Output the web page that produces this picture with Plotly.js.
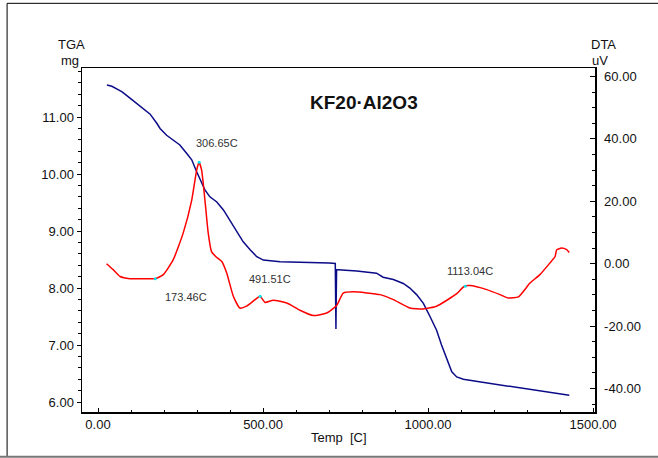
<!DOCTYPE html>
<html>
<head>
<meta charset="utf-8">
<script src="https://cdn.plot.ly/plotly-3.0.1.min.js"></script>
<style>html,body{margin:0;padding:0;background:#fff;}#chart{width:658px;height:458px;}</style>
</head>
<body>
<div id="chart"></div>
<script>
// TGA (mg) vs temperature (C)
const tgaTemp = [27,42,58,73,97,127,158,178,188,208,228,248,269,284,299,314,324,339,360,380,400,420,440,461,481,501,552,612,652,700,719,720,721,722,723,728,784,844,864,895,925,945,966,986,1006,1026,1041,1057,1072,1087,1107,1160,1218,1270,1319,1380,1428];
const tgaMass = [11.56,11.54,11.49,11.44,11.33,11.19,11.05,10.89,10.80,10.68,10.60,10.51,10.36,10.25,10.04,9.84,9.72,9.60,9.51,9.37,9.19,8.99,8.81,8.67,8.55,8.49,8.46,8.45,8.45,8.44,8.43,7.75,7.28,7.90,8.32,8.32,8.30,8.26,8.19,8.15,8.08,8.00,7.88,7.73,7.50,7.26,7.00,6.74,6.53,6.44,6.40,6.35,6.30,6.26,6.22,6.17,6.12];
// DTA (uV) vs temperature (C)
const dtaTemp = [26,46,67,97,148,173,198,228,258,284,299,306,314,324,334,344,359,375,390,410,430,450,476,491,506,531,572,612,652,693,723,743,774,855,895,945,986,1026,1057,1087,1110,1127,1178,1218,1243,1274,1309,1339,1369,1385,1390,1405,1420,1428];
const dtaSignal = [0.0,-1.9,-4.1,-4.8,-4.8,-4.8,-3.5,1.3,9.8,20.4,30.0,32.5,30.0,20.4,9.8,3.9,2.1,0.7,-3.0,-10.4,-14.2,-13.6,-11.5,-10.4,-12.4,-11.7,-12.6,-14.9,-16.6,-15.8,-13.4,-9.4,-9.0,-9.9,-11.5,-14.2,-14.5,-13.6,-11.7,-9.6,-7.2,-7.0,-8.3,-9.9,-11.0,-10.6,-6.2,-3.5,0.2,2.3,4.5,5.0,4.5,3.6];
// Peak markers and labels
const peakTemp = [306.65,173.46,491.51,1113.04];
const peakSignal = [32.5,-4.8,-10.4,-7.2];
const peakLabels = ["306.65C","173.46C","491.51C","1113.04C"];
const peakLabelX = [360,268,522,1127];
const peakLabelY = [38.7,-10.7,-4.9,-2.3];

const font = "Liberation Sans, Arial, sans-serif";
const traces = [
  {x: tgaTemp, y: tgaMass, type: "scatter", mode: "lines", line: {color: "#0b0b88", width: 1.5}, yaxis: "y", hoverinfo: "skip"},
  {x: dtaTemp, y: dtaSignal, type: "scatter", mode: "lines", line: {color: "#ff0000", width: 1.5, shape: "spline", smoothing: 0.5}, yaxis: "y2", hoverinfo: "skip"},
  {x: peakTemp, y: peakSignal, type: "scatter", mode: "markers", marker: {color: "#00e5ee", size: 3}, yaxis: "y2", hoverinfo: "skip"}
];

const annotations = peakLabels.map((t, i) => ({
  x: peakLabelX[i], y: peakLabelY[i], xref: "x", yref: "y2", text: t, showarrow: false,
  xanchor: "center", yanchor: "middle",
  font: {family: font, size: 11, color: "#333"}
}));
function paperText(x, y, text, size) {
  return {xref: "paper", yref: "paper", x: x, y: y, text: text, showarrow: false,
          xanchor: "center", yanchor: "middle", font: {family: font, size: size, color: "#111"}};
}
annotations.push(
  paperText(-0.0195, 1.067, "TGA", 13),
  paperText(-0.023, 1.023, "mg", 13),
  paperText(1.0175, 1.067, "DTA", 13),
  paperText(1.0097, 1.023, "uV", 13),
  paperText(0.55, 0.901, "<b>KF20·Al2O3</b>", 19),
  paperText(0.501, -0.073, "Temp  [C]", 13)
);

const layout = {
  width: 658, height: 458,
  margin: {l: 82, r: 63, t: 68, b: 46},
  paper_bgcolor: "#fff", plot_bgcolor: "#fff",
  showlegend: false,
  font: {family: font, size: 13, color: "#111"},
  xaxis: {range: [-48.5, 1506], tickvals: [0,500,1000,1500], ticktext: ["0.00","500.00","1000.00","1500.00"],
          ticks: "inside", ticklen: 4, tickcolor: "#000", showgrid: false, zeroline: false,
          showline: true, linecolor: "#000", linewidth: 1.5, mirror: true,
          minor: {dtick: 100, tick0: 0, ticks: "inside", ticklen: 2, tickcolor: "#000"}},
  yaxis: {range: [5.825, 11.86], tickvals: [6,7,8,9,10,11], ticktext: ["6.00","7.00","8.00","9.00","10.00","11.00"],
          ticks: "outside", ticklen: 4, tickcolor: "#000", showgrid: false, zeroline: false,
          showline: true, linecolor: "#000", linewidth: 1.5,
          minor: {dtick: 0.2, tick0: 6, ticks: "outside", ticklen: 3, tickcolor: "#000"}},
  yaxis2: {range: [-47.5, 62.7], overlaying: "y", side: "right", tickvals: [-40,-20,0,20,40,60],
           ticktext: ["-40.00","-20.00","0.00","20.00","40.00","60.00"],
           ticks: "inside", ticklen: 5, tickcolor: "#000", showgrid: false, zeroline: false,
           showline: true, linecolor: "#000", linewidth: 1.5, ticklabelstandoff: 5,
           minor: {dtick: 5, tick0: 0, ticks: "inside", ticklen: 3, tickcolor: "#000"}},
  annotations: annotations,
  shapes: [
    {type: "line", xref: "paper", yref: "paper", x0: -0.146, x1: -0.146, y0: 1.188, y1: -0.13, line: {color: "#000", width: 1}},
    {type: "line", xref: "paper", yref: "paper", x0: -0.146, x1: 1.2, y0: 1.188, y1: 1.188, line: {color: "#000", width: 1}},
    {type: "line", xref: "paper", yref: "paper", x0: -0.2, x1: 1.2, y0: -0.13, y1: -0.13, line: {color: "#777", width: 2}}
  ]
};

Plotly.newPlot("chart", traces, layout, {displayModeBar: false, staticPlot: true});
</script>
</body>
</html>
